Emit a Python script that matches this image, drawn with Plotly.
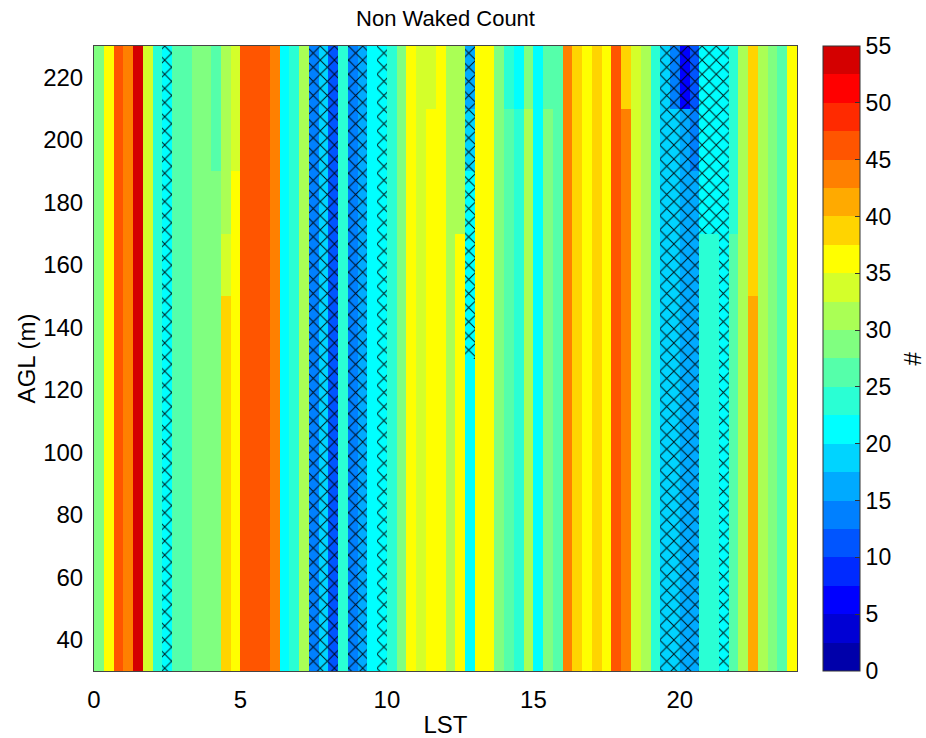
import plotly.graph_objects as go

# ---------------- data ----------------
# 72 columns of 20-minute LST bins (0..24 h), 20 rows of 10 m AGL (30..230 m)
col_width_h = 1 / 3
agl_centres = [35, 45, 55, 65, 75, 85, 95, 105, 115, 125,
               135, 145, 155, 165, 175, 185, 195, 205, 215, 225]

# non-waked count of each column (lower part of the profile)
col_counts = [29, 36, 46, 44, 54, 34, 24, 21, 26, 26, 29, 29,
              29, 39, 36, 46, 46, 46, 44, 21, 24, 31, 14, 19,
              11, 24, 14, 16, 21, 21, 24, 29, 36, 34, 36, 36,
              31, 36, 21, 36, 36, 29, 26, 24, 31, 21, 29, 26,
              44, 39, 36, 39, 36, 46, 44, 34, 31, 24, 19, 19,
              16, 16, 24, 24, 21, 26, 31, 41, 31, 29, 26, 36]

# (column, above AGL m, count) : counts that differ higher up in a column
upper_counts = [(12, 190, 26), (13, 150, 34), (13, 170, 31), (14, 190, 34),
                (34, 210, 34), (37, 170, 31), (38, 190, 19), (38, 210, 16),
                (42, 210, 24), (43, 210, 21), (44, 210, 29), (46, 210, 26),
                (54, 210, 39), (59, 210, 14), (60, 210, 6), (61, 190, 14),
                (61, 210, 11), (62, 170, 21), (63, 170, 21), (65, 170, 24),
                (67, 150, 39)]

# (column, bottom AGL, top AGL) : cross-hatched cells
hatched = [(7, 30, 230), (22, 30, 230), (23, 30, 230), (24, 30, 230),
           (26, 30, 230), (27, 30, 230), (29, 30, 230), (38, 130, 230),
           (58, 30, 230), (59, 30, 230), (60, 30, 230), (61, 30, 230),
           (62, 170, 230), (63, 170, 230), (64, 30, 230)]

x_ticks = [0, 5, 10, 15, 20]
y_ticks = [40, 60, 80, 100, 120, 140, 160, 180, 200, 220]
cbar_ticks = [0, 5, 10, 15, 20, 25, 30, 35, 40, 45, 50, 55]

# ---------------- build grid ----------------
n_cols = len(col_counts)
lst_centres = [(c + 0.5) * col_width_h for c in range(n_cols)]
z = [[col_counts[c] for c in range(n_cols)] for _ in agl_centres]
for c, above, val in upper_counts:
    for r, a in enumerate(agl_centres):
        if a > above:
            z[r][c] = val

# MATLAB jet(22)
jet22 = ['#0000AA', '#0000D4', '#0000FF', '#002AFF', '#0055FF', '#0080FF',
         '#00AAFF', '#00D4FF', '#00FFFF', '#2AFFD4', '#55FFAA', '#80FF80',
         '#AAFF55', '#D4FF2A', '#FFFF00', '#FFD400', '#FFAA00', '#FF8000',
         '#FF5500', '#FF2A00', '#FF0000', '#D40000']
nlev = len(jet22)
colorscale = []
for k, col in enumerate(jet22):
    colorscale.append([k / nlev, col])
    colorscale.append([(k + 1) / nlev, col])

FONT = 'Liberation Sans, Arial, sans-serif'

fig = go.Figure()
fig.add_trace(go.Heatmap(
    x=lst_centres, y=agl_centres, z=z,
    zmin=0, zmax=55, colorscale=colorscale,
    colorbar=dict(
        x=1.037, xanchor='left', xpad=0,
        y=0.5, yanchor='middle', len=1, lenmode='fraction', ypad=0,
        thickness=37, thicknessmode='pixels',
        outlinewidth=1, outlinecolor='#333333',
        tickvals=cbar_ticks, ticks='inside', ticklen=5, tickcolor='#333333',
        tickfont=dict(family=FONT, size=23, color='black'),
    ),
    hoverinfo='skip',
))

hx = [(c + 0.5) * col_width_h for c, b, t in hatched]
hb = [b for c, b, t in hatched]
hh = [t - b for c, b, t in hatched]
fig.add_trace(go.Bar(
    x=hx, y=hh, base=hb, width=col_width_h,
    marker=dict(color='rgba(0,0,0,0)', line=dict(width=0),
                pattern=dict(shape='x', fgcolor='black', fgopacity=0.9,
                             size=10, solidity=0.18, fillmode='overlay')),
    showlegend=False, hoverinfo='skip',
))

fig.update_layout(
    width=926, height=738,
    margin=dict(l=94, r=129, t=46, b=67, autoexpand=False),
    paper_bgcolor='white', plot_bgcolor='white',
    font=dict(family=FONT, color='black'),
    barmode='overlay', bargap=0,
    title=dict(text='Non Waked Count', x=0.5, xref='paper', xanchor='center',
               y=1 - 18 / 738, yref='container', yanchor='middle',
               font=dict(family=FONT, size=22, color='black')),
    xaxis=dict(range=[0, 24], tickvals=x_ticks, ticks='', showgrid=False,
               zeroline=False, showline=True, mirror=True, linecolor='#444444',
               linewidth=1, ticklabelstandoff=7, automargin=False,
               tickfont=dict(family=FONT, size=24),
               title=dict(text='LST', font=dict(family=FONT, size=24), standoff=4)),
    yaxis=dict(range=[30, 230], tickvals=y_ticks, ticks='', showgrid=False,
               zeroline=False, showline=True, mirror=True, linecolor='#444444',
               linewidth=1, ticklabelstandoff=5, automargin=False,
               tickfont=dict(family=FONT, size=24),
               title=dict(text='AGL (m)', font=dict(family=FONT, size=24), standoff=0)),
    annotations=[dict(text='#', x=1.1636, y=0.5, xref='paper', yref='paper',
                      xanchor='center', yanchor='middle',
                      showarrow=False, textangle=-90,
                      font=dict(family=FONT, size=24, color='black'))],
)

fig.write_html('out.html')
